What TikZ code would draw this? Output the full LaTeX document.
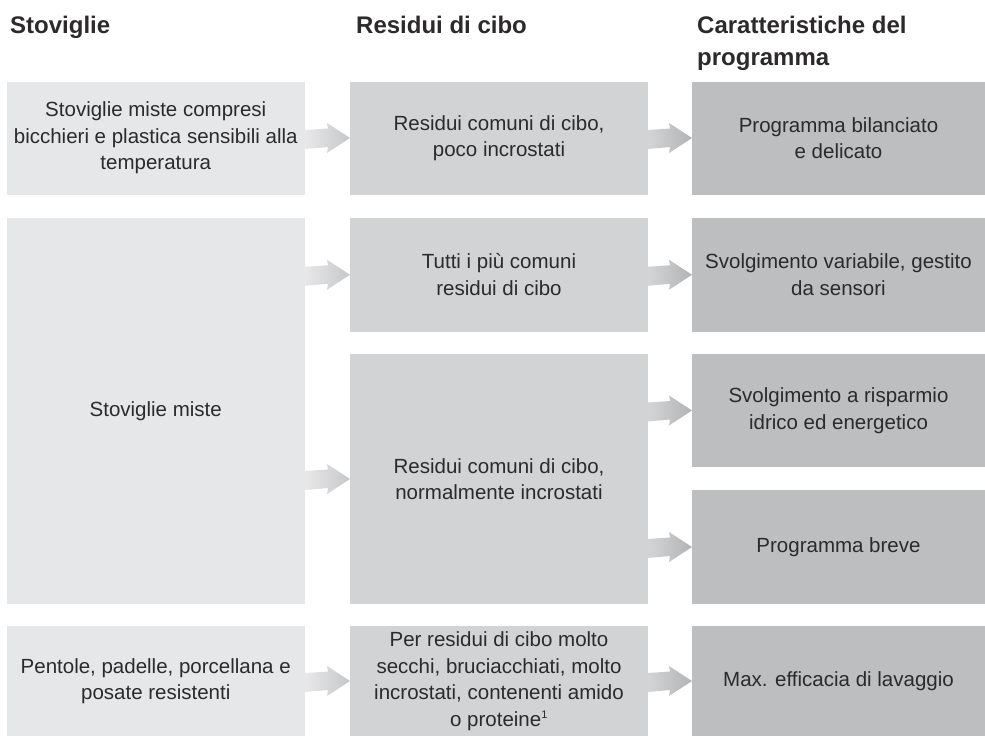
\documentclass[tikz,border=0pt]{standalone}
\usepackage{fontspec}
\setmainfont{Liberation Sans}
\usetikzlibrary{calc}
\definecolor{boxA}{HTML}{E6E7E8}
\definecolor{boxB}{HTML}{D1D3D4}
\definecolor{boxC}{HTML}{BCBEC0}
\definecolor{arrAl}{HTML}{E8E8E9}
\definecolor{arrAr}{HTML}{C6C7C9}
\definecolor{arrBl}{HTML}{D3D4D6}
\definecolor{arrBr}{HTML}{B2B3B5}
\definecolor{ink}{HTML}{2C2A2B}
\newcommand\blockarrow[4]{%
  \shade[left color=#3, right color=#4, draw=none]
    ($(#1.east |- #2.west)+(0,-8)$) -- ($(#2.west)+(-22,-9.5)$) -- ($(#2.west)+(-23,-15)$)
    -- (#2.west) -- ($(#2.west)+(-23,15)$) -- ($(#2.west)+(-22,9)$)
    -- ($(#1.east |- #2.west)+(0,11)$) -- cycle;}
\begin{document}
\begin{tikzpicture}[x=1pt,y=-1pt,
  boxbase/.style={inner sep=0pt, outer sep=0pt, anchor=north west, align=center, text=ink,
    font=\fontsize{20.5}{26.5}\selectfont},
  boxa/.style={boxbase, fill=boxA, minimum width=298.5pt},
  boxb/.style={boxbase, fill=boxB, minimum width=298pt},
  boxc/.style={boxbase, fill=boxC, minimum width=293pt},
  head/.style={inner sep=0pt, anchor=north west, align=left, text=ink,
    font=\bfseries\fontsize{24}{32}\selectfont}]
\useasboundingbox (0,0) rectangle (985,736);
\fill[white] (0,0) rectangle (985,736);
% headers
\node[head] (h1) at (10,15.5) {Stoviglie};
\node[head] (h2) at (356,15.5) {Residui di cibo};
\node[head] (h3) at (697,15.5) {Caratteristiche del\\programma};
% column 1
\node[boxa, minimum height=113pt] (s1) at (6.5,81.5) {Stoviglie miste compresi\\bicchieri e plastica sensibili alla\\temperatura};
\node[boxa, minimum height=386pt] (s2) at (6.5,218) {Stoviglie miste};
\node[boxa, minimum height=110pt] (s3) at (6.5,626) {Pentole, padelle, porcellana e\\posate resistenti};
% column 2
\node[boxb, minimum height=113pt] (r1) at (350,81.5) {Residui comuni di cibo,\\poco incrostati};
\node[boxb, minimum height=113.5pt] (r2) at (350,218) {Tutti i più comuni\\residui di cibo};
\node[boxb, minimum height=250pt] (r3) at (350,354) {Residui comuni di cibo,\\normalmente incrostati};
\node[boxb, minimum height=110pt] (r4) at (350,626) {Per residui di cibo molto\\secchi, bruciacchiati, molto\\incrostati, contenenti amido\\o proteine\textsuperscript{\fontsize{11}{11}\selectfont 1}};
% column 3
\node[boxc, minimum height=113pt] (p1) at (692,81.5) {Programma bilanciato\\e delicato};
\node[boxc, minimum height=113.5pt] (p2) at (692,218) {Svolgimento variabile, gestito\\da sensori};
\node[boxc, minimum height=113pt] (p3) at (692,354) {Svolgimento a risparmio\\idrico ed energetico};
\node[boxc, minimum height=114pt] (p4) at (692,490) {Programma breve};
\node[boxc, minimum height=110pt] (p5) at (692,626) {Max. efficacia di lavaggio};
% arrows
\blockarrow{s1}{r1}{arrAl}{arrAr}
\blockarrow{s2}{r2}{arrAl}{arrAr}
\blockarrow{s2}{r3}{arrAl}{arrAr}
\blockarrow{s3}{r4}{arrAl}{arrAr}
\blockarrow{r1}{p1}{arrBl}{arrBr}
\blockarrow{r2}{p2}{arrBl}{arrBr}
\blockarrow{r3}{p3}{arrBl}{arrBr}
\blockarrow{r3}{p4}{arrBl}{arrBr}
\blockarrow{r4}{p5}{arrBl}{arrBr}
\end{tikzpicture}
\end{document}
